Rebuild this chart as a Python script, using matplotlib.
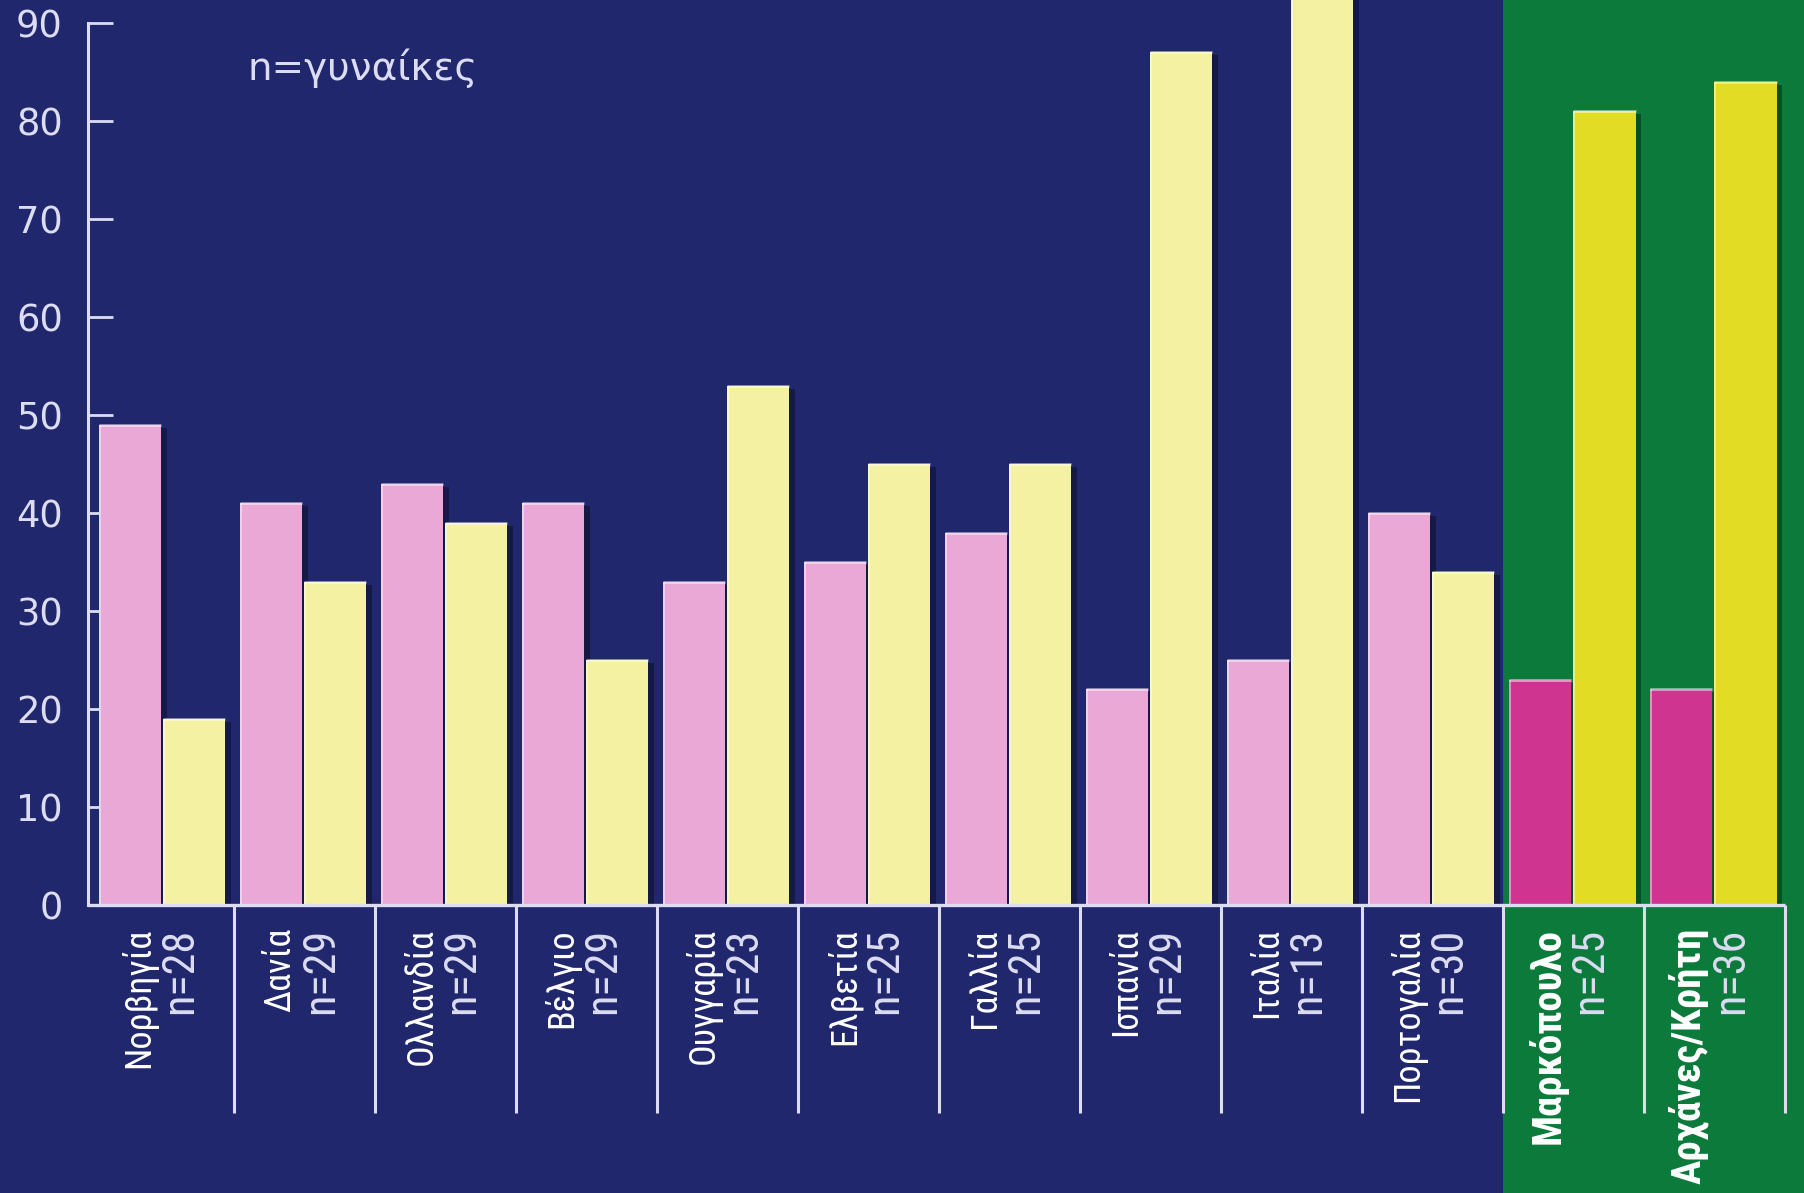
import os
import matplotlib
matplotlib.use("Agg")
import matplotlib.pyplot as plt
from matplotlib import font_manager as fm
from matplotlib.font_manager import FontProperties
from matplotlib.patches import Rectangle
from matplotlib.transforms import blended_transform_factory
import numpy as np

# ---- data -------------------------------------------------------------
countries = ["Νορβηγία", "Δανία", "Ολλανδία", "Βέλγιο", "Ουγγαρία", "Ελβετία",
             "Γαλλία", "Ισπανία", "Ιταλία", "Πορτογαλία", "Μαρκόπουλο", "Αρχάνες/Κρήτη"]
n_women = [28, 29, 29, 29, 23, 25, 25, 29, 13, 30, 25, 36]
pink_values = [49, 41, 43, 41, 33, 35, 38, 22, 25, 40, 23, 22]
yellow_values = [19, 33, 39, 25, 53, 45, 45, 87, 95, 34, 81, 84]
y_ticks = [0, 10, 20, 30, 40, 50, 60, 70, 80, 90]
greek_groups = ["Μαρκόπουλο", "Αρχάνες/Κρήτη"]
note_text = "n=γυναίκες"

# ---- style ------------------------------------------------------------
NAVY = "#20276c"
GREEN = "#0b7a3b"
PINK = "#eaa8d6"
PALE_YELLOW = "#f4f2a2"
MAGENTA = "#cf3590"
YELLOW = "#e3dc24"
LINE = "#dcdcf2"


def condensed_fonts():
    """Return (regular, bold) FontProperties for the narrowest sans available."""
    paths = set(fm.findSystemFonts()) | {f.fname for f in fm.fontManager.ttflist}
    by_base = {os.path.basename(p): p for p in paths}
    prefs = [
        ("NotoSans-ExtraCondensed.ttf", "NotoSans-ExtraCondensedBold.ttf"),
        ("NotoSans-Condensed.ttf", "NotoSans-CondensedBold.ttf"),
        ("RobotoCondensed-Regular.ttf", "RobotoCondensed-Bold.ttf"),
        ("LiberationSansNarrow-Regular.ttf", "LiberationSansNarrow-Bold.ttf"),
        ("DejaVuSansCondensed.ttf", "DejaVuSansCondensed-Bold.ttf"),
    ]
    for reg, bold in prefs:
        if reg in by_base:
            reg_fp = FontProperties(fname=by_base[reg])
            bold_fp = FontProperties(fname=by_base[bold]) if bold in by_base else \
                FontProperties(fname=by_base[reg], weight="bold")
            return reg_fp, bold_fp
    return FontProperties(family="DejaVu Sans"), FontProperties(family="DejaVu Sans",
                                                                 weight="bold")


LABEL_FP, LABEL_FP_BOLD = condensed_fonts()

W, H = 1804, 1193
fig = plt.figure(figsize=(W / 100, H / 100), dpi=100)
fig.patch.set_facecolor(NAVY)

ax = fig.add_axes([88 / W, 288 / H, 1 - 88 / W, 905 / H])
ax.set_facecolor("none")
ax.set_xlim(-0.535, 11.635)
ax.set_ylim(0, 92.35)

x = np.arange(len(countries))
is_greek = np.array([c in greek_groups for c in countries])

# green panel behind the Greek groups, spanning the full figure height
panel = Rectangle((len(countries) - len(greek_groups) - 0.5, 0), 3, 1,
                  transform=blended_transform_factory(ax.transData, fig.transFigure),
                  facecolor=GREEN, edgecolor="none", zorder=0, clip_on=False)
ax.add_patch(panel)

bw = 0.44
pink_cols = [MAGENTA if g else PINK for g in is_greek]
yellow_cols = [YELLOW if g else PALE_YELLOW for g in is_greek]

pink_left = x - 0.455
yellow_left = x + 0.0

# soft drop shadows on the right side of each bar
for left, vals in ((pink_left, pink_values), (yellow_left, yellow_values)):
    ax.bar(left + 0.04, np.array(vals) - 0.3, width=bw, align="edge",
           color="#000000", alpha=0.35, zorder=1, linewidth=0)

ax.bar(pink_left, pink_values, width=bw, align="edge", color=pink_cols,
       zorder=2, linewidth=0)
ax.bar(yellow_left, yellow_values, width=bw, align="edge", color=yellow_cols,
       zorder=2, linewidth=0)

# light highlight along the left and top edges
for left, vals in ((pink_left, pink_values), (yellow_left, yellow_values)):
    ax.bar(left, vals, width=0.014, align="edge", color="white", alpha=0.45,
           zorder=3, linewidth=0)
    ax.hlines(vals, left, left + bw, colors="white", alpha=0.5, linewidth=2,
              zorder=3)

# axes: left spine with inward ticks, baseline and group separators
for side in ("top", "right", "bottom"):
    ax.spines[side].set_visible(False)
ax.spines["left"].set_color(LINE)
ax.spines["left"].set_linewidth(2.2)
ax.spines["left"].set_bounds(0, 90)
ax.set_yticks(y_ticks)
ax.tick_params(axis="y", direction="in", length=18, width=2, pad=18,
               colors=LINE, labelsize=26.5)
for lab in ax.get_yticklabels():
    lab.set_fontfamily("DejaVu Sans")
ax.set_xticks([])

ax.hlines(0, ax.get_xlim()[0], len(countries) - 0.5, colors=LINE,
          linewidth=2.4, zorder=4, clip_on=False)

xt = ax.get_xaxis_transform()
sep_bottom = -208 / 905
for s in np.arange(0.5, len(countries), 1.0):
    ax.plot([s, s], [sep_bottom, 0], transform=xt, color=LINE, linewidth=2.2,
            clip_on=False, zorder=4, solid_capstyle="butt")

# rotated two-line category labels: name, then the sample size
label_top = -23 / 905
name_texts, bold_texts, n_texts = [], [], []
for xi, name, n, greek in zip(x, countries, n_women, is_greek):
    fp = (LABEL_FP_BOLD if greek else LABEL_FP).copy()
    t = ax.text(xi - 0.1, label_top, name, transform=xt, rotation=90,
                rotation_mode="anchor", ha="right", va="baseline",
                color="white", fontproperties=fp)
    (bold_texts if greek else name_texts).append(t)
    n_texts.append(ax.text(xi + 0.2, label_top, f"n={n}", transform=xt,
                           rotation=90, rotation_mode="anchor", ha="right",
                           va="baseline", color=LINE,
                           fontproperties=LABEL_FP.copy()))


def fit_size(texts, probe, target_px, base=30.0):
    """Scale a group of labels so that `probe` spans target_px along its run."""
    for t in texts:
        t.set_fontsize(base)
    renderer = fig.canvas.get_renderer()
    size = base * target_px / probe.get_window_extent(renderer).height
    for t in texts:
        t.set_fontsize(size)


fit_size(name_texts, name_texts[0], 140.0)
fit_size(bold_texts, bold_texts[-1], 255.0)
fit_size(n_texts, n_texts[0], 86.0)

fig.text(247 / W, 1 - 80 / H, note_text, fontsize=28, color=LINE,
         fontfamily="DejaVu Sans", ha="left", va="baseline")

fig.savefig("out.png", dpi=100, facecolor=fig.get_facecolor())
